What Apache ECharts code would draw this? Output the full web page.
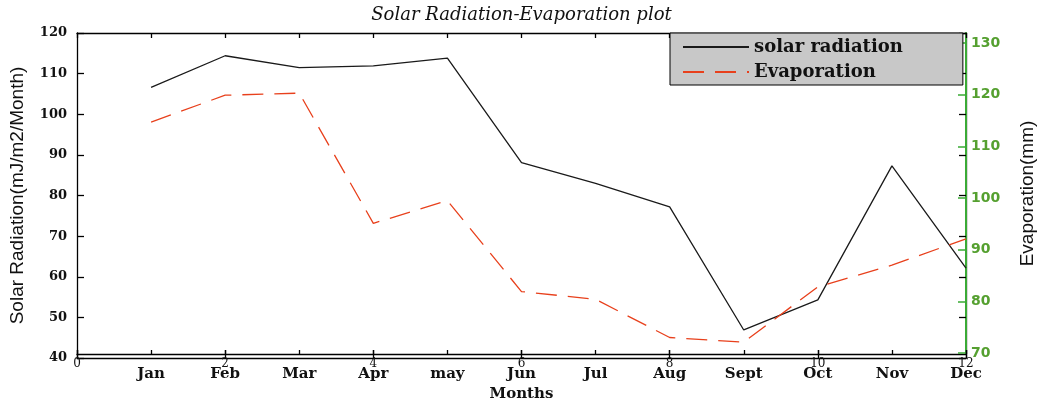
<!DOCTYPE html>
<html>
<head>
<meta charset="utf-8">
<script src="https://cdn.jsdelivr.net/npm/echarts@6/dist/echarts.min.js"></script>
<style>html,body{margin:0;padding:0;background:#fff}#c{width:1043px;height:401px}</style>
</head>
<body>
<div id="c"></div>
<script>
var monthLabels = ['Jan','Feb','Mar','Apr','may','Jun','Jul','Aug','Sept','Oct','Nov','Dec'];
var solarRadiation = [106.6, 114.4, 111.5, 111.9, 113.8, 88.1, 83.0, 77.2, 46.9, 54.3, 87.3, 62.1];
var evaporation = [114.7, 119.9, 120.3, 95.1, 99.5, 81.9, 80.4, 73.0, 72.1, 82.8, 87.0, 92.1];
var leftTicks = [40, 50, 60, 70, 80, 90, 100, 110, 120];
var rightTicks = [70, 80, 90, 100, 110, 120, 130];
var numericTicks = [0, 2, 4, 6, 8, 10, 12];

var serif = '"DejaVu Serif", "Liberation Serif", serif';
var green = '#3aaa35';
var greenText = '#55a030';

var chart = echarts.init(document.getElementById('c'), null, {renderer: 'canvas'});
var option = {
  backgroundColor: '#ffffff',
  animation: false,
  title: {
    text: 'Solar Radiation-Evaporation plot',
    left: 'center', top: 1,
    textStyle: {fontFamily: serif, fontStyle: 'italic', fontWeight: 'normal', fontSize: 18, color: '#111'}
  },
  legend: {
    data: ['solar radiation', 'Evaporation'],
    orient: 'vertical',
    left: 670, top: 33,
    backgroundColor: '#c8c8c8',
    borderColor: '#000', borderWidth: 1,
    padding: [5, 60, 4, 12],
    itemWidth: 66, itemHeight: 14, itemGap: 7,
    itemStyle: {opacity: 0},
    textStyle: {fontFamily: serif, fontSize: 18, fontWeight: 'bold', color: '#111'}
  },
  grid: [
    {left: 77, right: 77, top: 33, bottom: 43, containLabel: false, outerBoundsMode: 'none'},
    {left: 77, right: 77, top: 33, bottom: 47, containLabel: false, outerBoundsMode: 'none'}
  ],
  xAxis: [
    {
      gridIndex: 0, type: 'value', position: 'bottom', min: 0, max: 12, interval: 2,
      axisLine: {show: true, onZero: false, lineStyle: {color: '#000', width: 1.3}},
      axisTick: {show: true, inside: true, length: 8, lineStyle: {color: '#000', width: 1.3}},
      axisLabel: {show: true, margin: 0, fontFamily: serif, fontSize: 12, color: '#111'},
      splitLine: {show: false}
    },
    {
      gridIndex: 1, type: 'value', position: 'bottom', min: 0, max: 12, interval: 1,
      axisLine: {show: true, onZero: false, lineStyle: {color: '#000', width: 1.3}},
      axisTick: {show: true, inside: true, length: 4, lineStyle: {color: '#000', width: 1.3}},
      axisLabel: {show: true, margin: 13, fontFamily: serif, fontSize: 15, fontWeight: 'bold', color: '#111',
        formatter: function (v) { return v >= 1 && v <= 12 ? monthLabels[v - 1] : ''; }},
      name: 'Months', nameLocation: 'middle', nameGap: 31,
      nameTextStyle: {fontFamily: serif, fontSize: 15, fontWeight: 'bold', color: '#111'},
      splitLine: {show: false}
    },
    {
      gridIndex: 1, type: 'value', position: 'top', min: 0, max: 12, interval: 1,
      axisLine: {show: true, onZero: false, lineStyle: {color: '#000', width: 1.3}},
      axisTick: {show: true, inside: true, length: 5, lineStyle: {color: '#000', width: 1.3}},
      axisLabel: {show: false},
      splitLine: {show: false}
    }
  ],
  yAxis: [
    {
      gridIndex: 0, type: 'value', position: 'left', min: 40, max: 120, interval: 10,
      axisLine: {show: true, onZero: false, lineStyle: {color: '#000', width: 1.3}},
      axisTick: {show: true, inside: true, length: 7, lineStyle: {color: '#000', width: 1.3}},
      axisLabel: {show: true, margin: 10, fontFamily: serif, fontSize: 13, fontWeight: 'bold', color: '#111'},
      name: 'Solar Radiation(mJ/m2/Month)', nameLocation: 'middle', nameGap: 50, nameRotate: 90,
      nameTextStyle: {fontFamily: '"Liberation Sans Narrow", "Liberation Sans", sans-serif', fontSize: 19, color: '#111'},
      splitLine: {show: false}
    },
    {
      gridIndex: 0, type: 'value', position: 'right', min: 40, max: 120, interval: 10,
      axisLine: {show: true, onZero: false, lineStyle: {color: '#000', width: 1.3}},
      axisTick: {show: true, inside: true, length: 7, lineStyle: {color: '#000', width: 1.3}},
      axisLabel: {show: false},
      splitLine: {show: false}
    },
    {
      gridIndex: 1, type: 'value', position: 'right', min: 69.81, max: 131.94,
      axisLine: {show: true, onZero: false, lineStyle: {color: green, width: 2}},
      axisTick: {show: true, inside: true, length: 8, customValues: rightTicks, lineStyle: {color: green, width: 1.5}},
      axisLabel: {show: true, margin: 5, customValues: rightTicks, fontFamily: '"DejaVu Sans", sans-serif', fontSize: 14, fontWeight: 'bold', color: greenText},
      name: 'Evaporation(mm)', nameLocation: 'middle', nameGap: 52, nameRotate: 90,
      nameTextStyle: {fontFamily: '"Liberation Sans Narrow", "Liberation Sans", sans-serif', fontSize: 19, color: '#111'},
      splitLine: {show: false}
    }
  ],
  series: [
    {
      name: 'solar radiation', type: 'line', xAxisIndex: 0, yAxisIndex: 0,
      data: solarRadiation.map(function (v, i) { return [i + 1, v]; }),
      symbol: 'none',
      lineStyle: {color: '#1a1a1a', width: 1.3},
      itemStyle: {color: '#1a1a1a'}
    },
    {
      name: 'Evaporation', type: 'line', xAxisIndex: 1, yAxisIndex: 2,
      data: evaporation.map(function (v, i) { return [i + 1, v]; }),
      symbol: 'none',
      lineStyle: {color: '#e8401c', width: 1.3, type: [21, 11]},
      itemStyle: {color: '#e8401c'}
    }
  ]
};
chart.setOption(option);
</script>
</body>
</html>
